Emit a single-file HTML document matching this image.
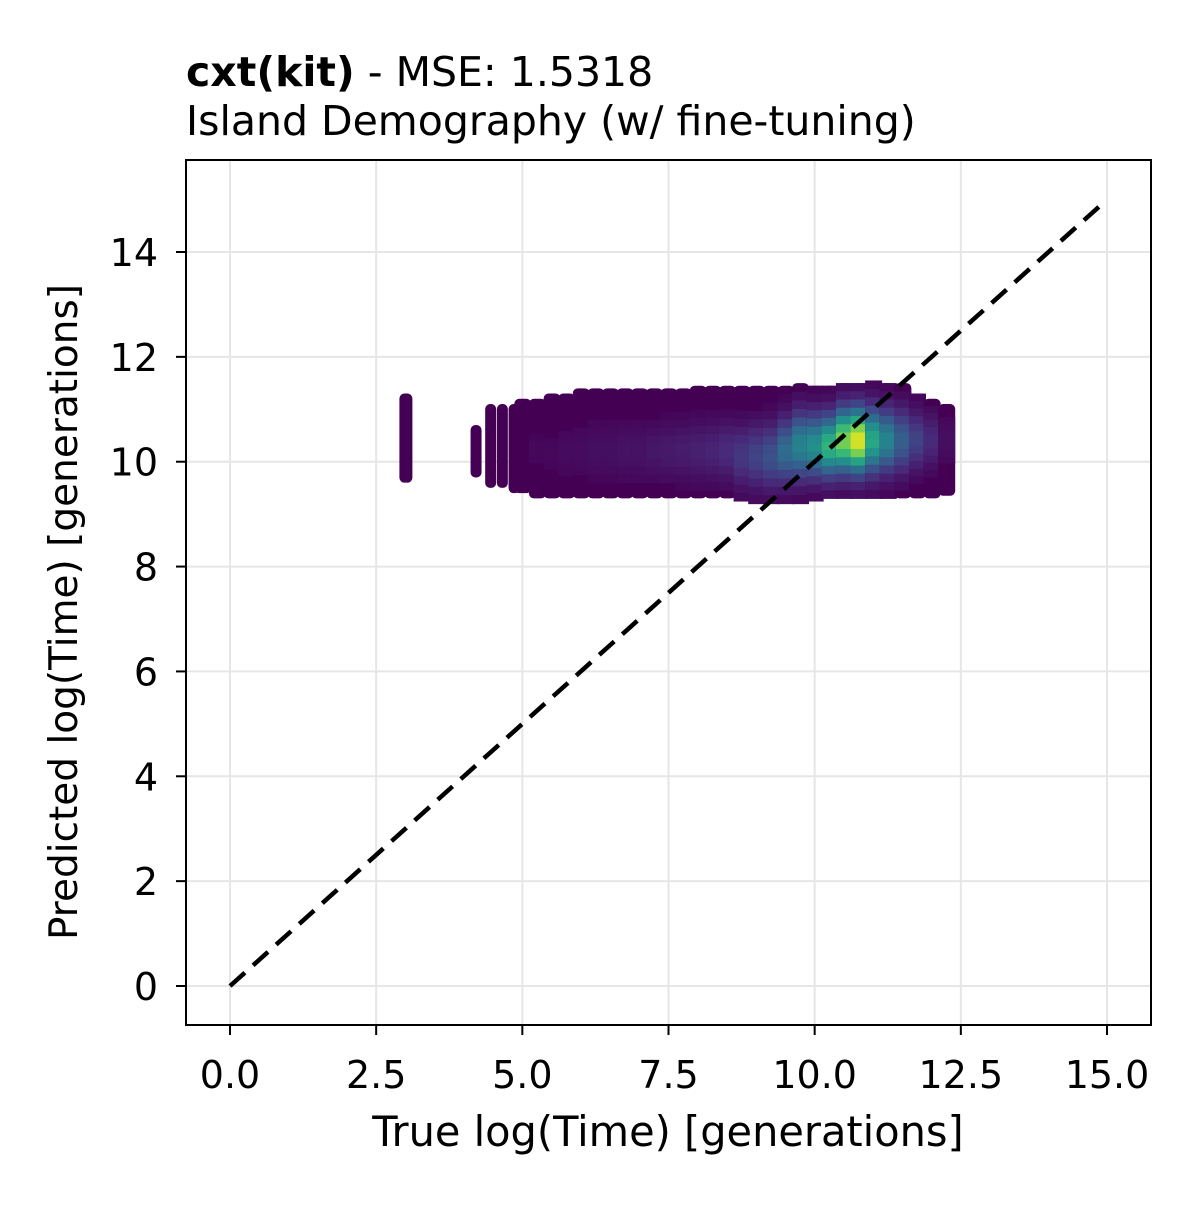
<!DOCTYPE html>
<html><head><meta charset="utf-8"><style>
html,body{margin:0;padding:0;background:#fff;}
svg text{font-family:"DejaVu Sans","Liberation Sans",sans-serif;fill:#000;}
</style></head><body>
<svg id="chart" width="1200" height="1200" xmlns="http://www.w3.org/2000/svg">
<text x="186" y="86" font-size="41"><tspan font-weight="bold">cxt(kit)</tspan> - MSE: 1.5318</text>
<text x="186" y="135" font-size="41">Island Demography (w/ fine-tuning)</text>
<g id="grid"></g>
<g id="marks"></g>
<g id="diag"></g>
<rect x="186" y="160" width="965" height="865" fill="none" stroke="#000" stroke-width="2"/>
<g id="axes"></g>
<text x="668" y="1146" font-size="41.5" text-anchor="middle">True log(Time) [generations]</text>
<text transform="translate(77,612) rotate(-90)" font-size="39" text-anchor="middle">Predicted log(Time) [generations]</text>
</svg>
<script>
const xTicks=[0,2.5,5,7.5,10,12.5,15];
const xTickLabels=["0.0","2.5","5.0","7.5","10.0","12.5","15.0"];
const yTicks=[0,2,4,6,8,10,12,14];
const yTickLabels=["0","2","4","6","8","10","12","14"];
const colX=[3.0,4.2,4.45,4.65,4.85,5.0,5.25,5.5,5.75,6.0,6.25,6.5,6.75,7.0,7.25,7.5,7.75,8.0,8.25,8.5,8.75,9.0,9.25,9.5,9.75,10.0,10.25,10.5,10.75,11.0,11.25,11.5,11.75,12.0,12.25];
const colLo=[9.6,9.7,9.5,9.5,9.4,9.4,9.3,9.3,9.3,9.3,9.3,9.3,9.3,9.3,9.3,9.3,9.3,9.3,9.3,9.3,9.25,9.2,9.2,9.2,9.2,9.25,9.3,9.3,9.3,9.3,9.3,9.3,9.3,9.3,9.35];
const colHi=[11.3,10.7,11.1,11.1,11.1,11.2,11.2,11.3,11.3,11.4,11.4,11.4,11.4,11.4,11.4,11.4,11.4,11.45,11.45,11.45,11.45,11.45,11.45,11.45,11.5,11.45,11.45,11.5,11.5,11.55,11.5,11.5,11.3,11.2,11.1];
const colPeak=[0.0,0.0,0.0,0.0,0.01,0.01,0.02,0.02,0.03,0.03,0.04,0.04,0.05,0.05,0.06,0.07,0.08,0.09,0.1,0.12,0.16,0.2,0.25,0.35,0.45,0.5,0.65,0.8,0.95,0.6,0.45,0.3,0.2,0.12,0.04];
const colCenter=[10.2,10.2,10.2,10.2,10.2,10.2,10.2,10.2,10.2,10.2,10.2,10.2,10.2,10.2,10.2,10.2,10.2,10.2,10.2,10.2,10.1,10.1,10.1,10.2,10.3,10.3,10.3,10.4,10.4,10.4,10.4,10.4,10.4,10.4,10.4];
const diagX=[0,15];

const X0=186,X1=1151,Y0=160,Y1=1025;
const sx=v=>230+(v-0)*(1107-230)/15;
const sy=v=>986-(v-0)*(986-252)/14;
const NS="http://www.w3.org/2000/svg";
function mk(tag,at,parent){const e=document.createElementNS(NS,tag);for(const k in at)e.setAttribute(k,at[k]);parent.appendChild(e);return e;}
const stops=[[68,1,84],[72,40,120],[62,74,137],[49,104,142],[38,130,142],[31,158,137],[53,183,121],[109,205,89],[180,222,44],[253,231,37]];
function viridis(t){t=Math.max(0,Math.min(1,t));const p=t*(stops.length-1),i=Math.min(stops.length-2,Math.floor(p)),f=p-i;const a=stops[i],b=stops[i+1];return `rgb(${a.map((c,k)=>Math.round(c+(b[k]-c)*f)).join(',')})`;}

const grid=document.getElementById('grid'),axes=document.getElementById('axes'),marks=document.getElementById('marks');
xTicks.forEach((t,i)=>{const x=sx(t);
 const g=mk('line',{x1:x,x2:x,y1:Y0,y2:Y1,stroke:'#e6e6e6','stroke-width':2},grid);
 const k=mk('line',{x1:x,x2:x,y1:Y1,y2:Y1+10,stroke:'#000','stroke-width':2},axes);
 const l=mk('text',{x:x,y:1088,'font-size':38,'text-anchor':'middle'},axes);l.textContent=xTickLabels[i];});
yTicks.forEach((t,i)=>{const y=sy(t);
 const g=mk('line',{x1:X0,x2:X1,y1:y,y2:y,stroke:'#e6e6e6','stroke-width':2},grid);
 const k=mk('line',{x1:X0-10,x2:X0,y1:y,y2:y,stroke:'#000','stroke-width':2},axes);
 const l=mk('text',{x:X0-28,y:y+14,'font-size':38,'text-anchor':'end'},axes);l.textContent=yTickLabels[i];});

colX.forEach((cx,i)=>{
 const w=(i<5)?(i===0?12:10):16;
 const x=sx(cx)-w/2, yt=sy(colHi[i]), yb=sy(colLo[i]);
 const base=mk('rect',{x:x,y:yt,width:w+1,height:yb-yt,rx:5,fill:viridis(0)},marks);
 
 
 const pk=colPeak[i];
 if(pk>0.01){const N=14,cy=sy(colCenter[i]);
  for(let j=0;j<N;j++){const y=yt+(yb-yt)*j/N,h=(yb-yt)/N+0.5;const d=(y+h/2-cy)/(yb-yt)*2.6;const v=pk*Math.exp(-d*d*2.2);
   if(v>0.015){const c=mk('rect',{x:x,y:y,width:w+1,height:h,fill:viridis(v)},marks);
    
    }}}
});
const dl=mk('line',{x1:sx(diagX[0]),y1:sy(diagX[0]),x2:sx(diagX[1]),y2:sy(diagX[1]),stroke:'#000','stroke-width':4.5,'stroke-dasharray':'20,11'},document.getElementById('diag'));


</script>
</body></html>
